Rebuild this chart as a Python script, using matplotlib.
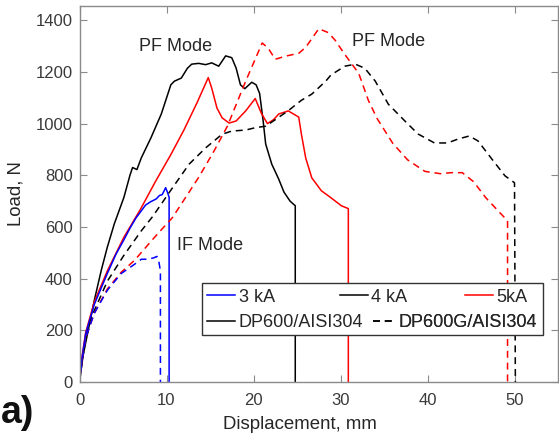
import matplotlib
matplotlib.use("Agg")
import matplotlib.pyplot as plt
from matplotlib.patches import Rectangle
from matplotlib.lines import Line2D

plt.rcParams['font.family'] = ['Liberation Sans', 'DejaVu Sans']
plt.rcParams['lines.scale_dashes'] = False

# ---------------- data ----------------
# 3 kA, DP600/AISI304 (blue solid)
x_3kA_dp = [0, 0.3, 0.7, 1.7, 3.2, 4.2, 5.1, 5.8, 6.5, 7.6, 8.2, 8.8, 9.2, 9.5, 9.7, 9.9, 10.1, 10.3, 10.3]
y_3kA_dp = [0, 95, 185, 300, 420, 495, 550, 595, 635, 685, 698, 708, 722, 725, 738, 752, 735, 715, 0]
# 3 kA, DP600G/AISI304 (blue dashed)
x_3kA_dpg = [0, 0.3, 0.7, 1.7, 3.2, 4.8, 6.3, 7.1, 7.8, 8.5, 8.9, 9.1, 9.25, 9.3, 9.3]
y_3kA_dpg = [0, 85, 170, 266, 355, 420, 455, 475, 475, 480, 486, 470, 440, 430, 0]
# 4 kA, DP600/AISI304 (black solid)
x_4kA_dp = [0, 0.4, 1.0, 1.7, 2.5, 3.2, 4.0, 5.1, 5.8, 6.1, 6.6, 7.1, 8.2, 9.4, 10.5, 10.9,
            11.7, 12.4, 12.9, 13.7, 14.5, 15.2, 16.0, 16.8, 17.5, 18.0, 18.5, 19.0, 19.8,
            20.3, 20.7, 21.1, 21.4, 22.1, 22.9, 23.5, 24.2, 24.8, 24.8]
y_4kA_dp = [0, 100, 200, 316, 432, 522, 612, 714, 800, 830, 822, 867, 944, 1037, 1150, 1164,
            1176, 1214, 1230, 1233, 1228, 1235, 1222, 1262, 1255, 1215, 1150, 1135, 1160,
            1150, 1117, 1013, 921, 843, 785, 735, 700, 682, 0]
# 4 kA, DP600G/AISI304 (black dashed)
x_4kA_dpg = [0, 0.3, 0.7, 1.55, 3.2, 5.1, 7.1, 8.4, 10.7, 11.7, 12.6, 14.5, 16.4, 17.5, 19.1,
             20.2, 21.4, 22.5, 24.0, 25.5, 26.7, 28.3, 28.9, 30.5, 31.7, 32.8, 34.0, 35.5,
             37.4, 38.9, 40.8, 42.3, 43.5, 44.8, 45.8, 47.3, 48.9, 50.0, 50.1]
y_4kA_dpg = [0, 80, 165, 265, 390, 490, 585, 640, 752, 800, 843, 906, 959, 971, 975,
             984, 990, 1015, 1050, 1090, 1114, 1164, 1188, 1222, 1230, 1214, 1164, 1075,
             1010, 960, 925, 925, 940, 952, 933, 867, 798, 771, 0]
# 5 kA, DP600/AISI304 (red solid)
x_5kA_dp = [0, 0.3, 0.7, 1.7, 3.2, 5.1, 7.0, 8.8, 10.5, 12.0, 13.5, 14.8, 15.2, 15.8, 16.4,
            17.2, 18.0, 19.1, 20.2, 20.9, 21.6, 22.3, 22.9, 24.0, 25.2, 25.5, 26.0, 26.7,
            27.8, 28.9, 30.1, 30.9, 30.9]
y_5kA_dp = [0, 100, 190, 310, 430, 560, 668, 780, 880, 975, 1080, 1178, 1137, 1060, 1022,
            1002, 1010, 1049, 1097, 1040, 1000, 1015, 1037, 1049, 1025, 960, 867, 790,
            740, 713, 682, 671, 0]
# 5 kA, DP600G/AISI304 (red dashed)
x_5kA_dpg = [0, 0.3, 0.7, 1.7, 3.2, 4.8, 6.3, 8.6, 10.7, 13.7, 15.4, 17.0, 19.1, 21.0, 21.7,
             22.5, 23.7, 25.2, 26.0, 27.5, 28.6, 29.4, 30.4, 32.1, 33.2, 34.2, 36.0, 37.7,
             39.7, 41.5, 42.7, 44.0, 45.3, 46.7, 48.1, 49.2, 49.2]
y_5kA_dpg = [0, 85, 170, 266, 360, 425, 470, 559, 637, 792, 890, 990, 1164, 1312, 1291,
             1249, 1261, 1272, 1295, 1367, 1352, 1322, 1272, 1194, 1090, 1020, 924, 860,
             815, 806, 810, 810, 775, 713, 663, 624, 0]

x_ticks = [0, 10, 20, 30, 40, 50]
y_ticks = [0, 200, 400, 600, 800, 1000, 1200, 1400]

# ---------------- figure ----------------
W, H = 559, 442
fig = plt.figure(figsize=(W / 100, H / 100), dpi=100)
ax = fig.add_axes([79.5 / W, 1 - 382 / H, (558 - 79.5) / W, (382 - 6) / H])

BLUE, BLACK, RED = '#0000ff', '#000000', '#ff0000'
LW = 1.1
DASH = (5, 3.5)

ax.plot(x_4kA_dp, y_4kA_dp, color=BLACK, lw=LW)
ax.plot(x_5kA_dp, y_5kA_dp, color=RED, lw=LW)
ax.plot(x_3kA_dp, y_3kA_dp, color=BLUE, lw=LW)
ax.plot(x_4kA_dpg, y_4kA_dpg, color=BLACK, lw=LW, ls=(0, DASH))
ax.plot(x_5kA_dpg, y_5kA_dpg, color=RED, lw=LW, ls=(0, DASH))
ax.plot(x_3kA_dpg, y_3kA_dpg, color=BLUE, lw=LW, ls=(0, DASH))

ax.set_xlim(0, 55)
ax.set_ylim(0, 1455)
ax.set_xticks(x_ticks)
ax.set_yticks(y_ticks)

spine_c = '#8a8a8a'
for s in ax.spines.values():
    s.set_color(spine_c)
    s.set_linewidth(1.0)
ax.tick_params(direction='in', length=5, width=0.8, color=spine_c,
               top=True, right=True, labelsize=12, labelcolor='#3a3a3a')
ax.tick_params(axis='x', pad=8)
ax.tick_params(axis='y', pad=5)

ax.set_xlabel('Displacement, mm', fontsize=13.4, color='#262626')
ax.set_ylabel('Load, N', fontsize=13.4, color='#262626')
ax.xaxis.set_label_coords(0.461, -0.09)
ax.yaxis.set_label_coords(-0.115, 0.5)

txt_c = '#262626'
ax.text(6.84, 1298, 'PF Mode', fontsize=13, color=txt_c, ha='left', va='center')
ax.text(31.3, 1317, 'PF Mode', fontsize=13, color=txt_c, ha='left', va='center')
ax.text(11.17, 529, 'IF Mode', fontsize=13, color=txt_c, ha='left', va='center')

# legend: frame + individually placed entries
ax.add_patch(Rectangle((0.256, 0.125), 0.969 - 0.256, 0.263 - 0.125,
                       transform=ax.transAxes, fill=True, facecolor='white',
                       edgecolor='#333333', lw=1.0, zorder=5))
entries = [
    ('3 kA', BLUE, '-', 0.2665, 0.226, 1.55),
    ('4 kA', BLACK, '-', 0.544, 0.226, 1.55),
    ('5kA', RED, '-', 0.806, 0.226, 1.55),
    ('DP600/AISI304', BLACK, '-', 0.2665, 0.157, 1.55),
    ('DP600G/AISI304', BLACK, (0, DASH), 0.613, 0.157, 1.2),
]
for label, c, ls, xa, ya, hl in entries:
    h = Line2D([], [], color=c, lw=LW, ls=ls)
    leg = ax.legend([h], [label], loc='center left', bbox_to_anchor=(xa, ya),
                    bbox_transform=ax.transAxes, frameon=False, fontsize=13,
                    handlelength=hl, handletextpad=0.2, borderpad=0,
                    borderaxespad=0)
    for t in leg.get_texts():
        t.set_color(txt_c)
    leg.set_zorder(6)
    ax.add_artist(leg)

fig.text(1 / W, 1 - 413 / H, 'a)', fontsize=27, fontweight='bold',
         color='#111111', ha='left', va='center')

fig.savefig('out.png', dpi=100)
